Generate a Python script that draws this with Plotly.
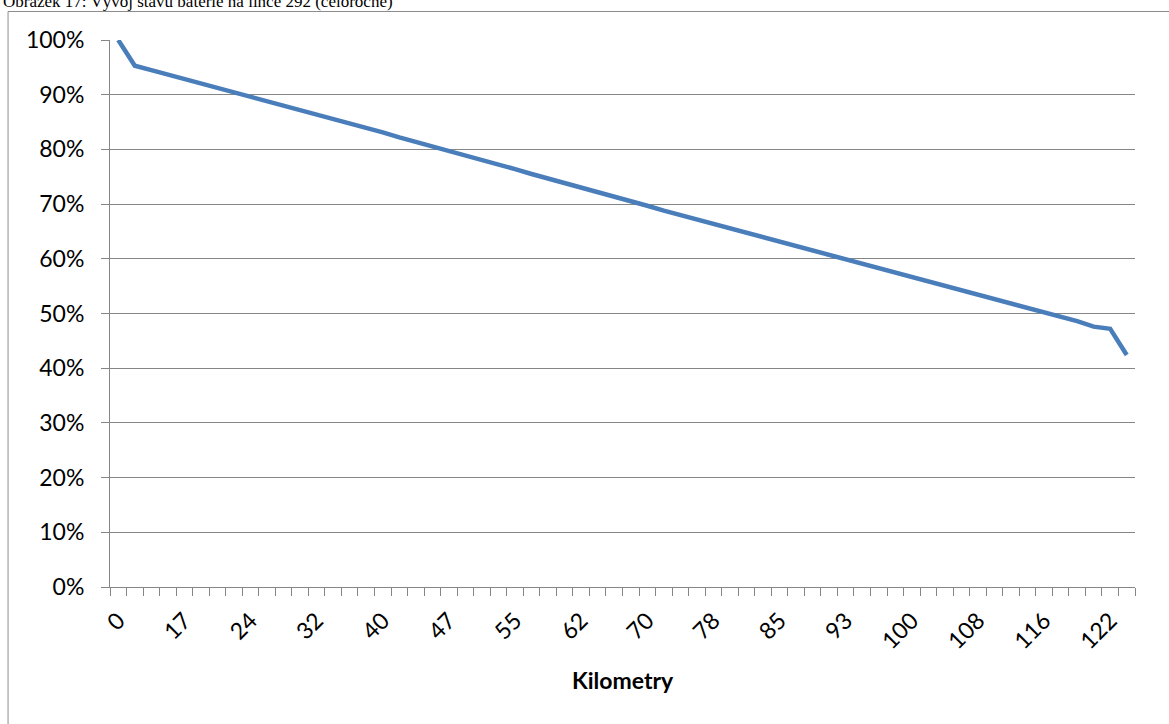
import plotly.graph_objects as go

# Battery state of charge along route 292, one value per stop (percent)
battery_pct = [
    100.0, 95.3, 94.5, 93.7, 92.9, 92.1, 91.3, 90.5, 89.7, 88.8,
    88.0, 87.2, 86.4, 85.5, 84.7, 83.9, 83.1, 82.2, 81.4, 80.6,
    79.7, 78.9, 78.1, 77.2, 76.4, 75.5, 74.7, 73.9, 73.0, 72.2,
    71.3, 70.5, 69.7, 68.8, 68.0, 67.2, 66.3, 65.5, 64.7, 63.9,
    63.1, 62.2, 61.4, 60.6, 59.8, 59.0, 58.2, 57.4, 56.6, 55.8,
    55.0, 54.3, 53.5, 52.7, 51.9, 51.1, 50.3, 49.5, 48.6, 47.6,
    47.2, 42.4,
]

# Kilometre labels shown on every fourth stop
km_labels = ["0", "17", "24", "32", "40", "47", "55", "62", "70", "78",
             "85", "93", "100", "108", "116", "122"]
label_step = 4

caption = "Obrázek 17: Vývoj stavu baterie na lince 292 (celoročně)"
x_title = "Kilometry"

W, H = 1169, 724
L, R, T, B = 109.5, 1135.0, 40.0, 587.0   # plot area edges in pixels
PW, PH = R - L, B - T

GRID = "#868686"
LINE = "#4A7EBB"
FONT = "Lato, 'Open Sans', sans-serif"


def px_x(p):
    return (p - L) / PW


def px_y(p):
    return (B - p) / PH


stops = list(range(len(battery_pct)))

fig = go.Figure(
    go.Scatter(
        x=stops,
        y=[v / 100 for v in battery_pct],
        mode="lines",
        line=dict(color=LINE, width=4.5),
        hoverinfo="skip",
    )
)

fig.update_layout(
    width=W,
    height=H,
    margin=dict(l=L, r=W - R, t=T, b=H - B, pad=0),
    paper_bgcolor="white",
    plot_bgcolor="white",
    showlegend=False,
    font=dict(family=FONT, size=23, color="black"),
)

fig.update_xaxes(
    range=[-0.5, len(stops) - 0.5],
    tickmode="array",
    tickvals=stops[::label_step],
    ticktext=km_labels,
    tickangle=-45,
    ticks="",
    ticklabelstandoff=10,
    showline=True,
    linecolor=GRID,
    linewidth=1,
    showgrid=False,
    zeroline=False,
    minor=dict(ticks="outside", ticklen=8, tickcolor=GRID, tickwidth=1,
               tickmode="linear", tick0=-0.5, dtick=1, showgrid=False),
)

fig.update_yaxes(
    range=[0, 1],
    tickmode="linear",
    tick0=0,
    dtick=0.1,
    tickformat=".0%",
    ticks="outside",
    ticklen=8,
    tickcolor=GRID,
    ticklabelstandoff=12,
    showline=True,
    linecolor=GRID,
    linewidth=1,
    showgrid=True,
    gridcolor=GRID,
    gridwidth=1,
    zeroline=False,
)

# Axis title
fig.add_annotation(
    text=f"<b>{x_title}</b>",
    xref="paper", yref="paper",
    x=0.5, y=px_y(680),
    xanchor="center", yanchor="middle",
    showarrow=False,
    font=dict(family=FONT, size=23, color="black"),
)

# Figure caption above the chart frame (runs off the top of the page)
fig.add_annotation(
    text=caption,
    xref="paper", yref="paper",
    x=px_x(0), y=px_y(1),
    xanchor="left", yanchor="middle",
    showarrow=False,
    font=dict(family="'Liberation Serif', 'Times New Roman', serif", size=17, color="black"),
)

# Chart frame (left and top edges)
fig.add_shape(
    type="path",
    xref="paper", yref="paper",
    path=f"M {px_x(7.5)} {px_y(H + 5)} L {px_x(7.5)} {px_y(11.5)} L {px_x(W + 5)} {px_y(11.5)}",
    line=dict(color="#8C8C8C", width=1),
    layer="above",
)

fig.write_html("out.html")
